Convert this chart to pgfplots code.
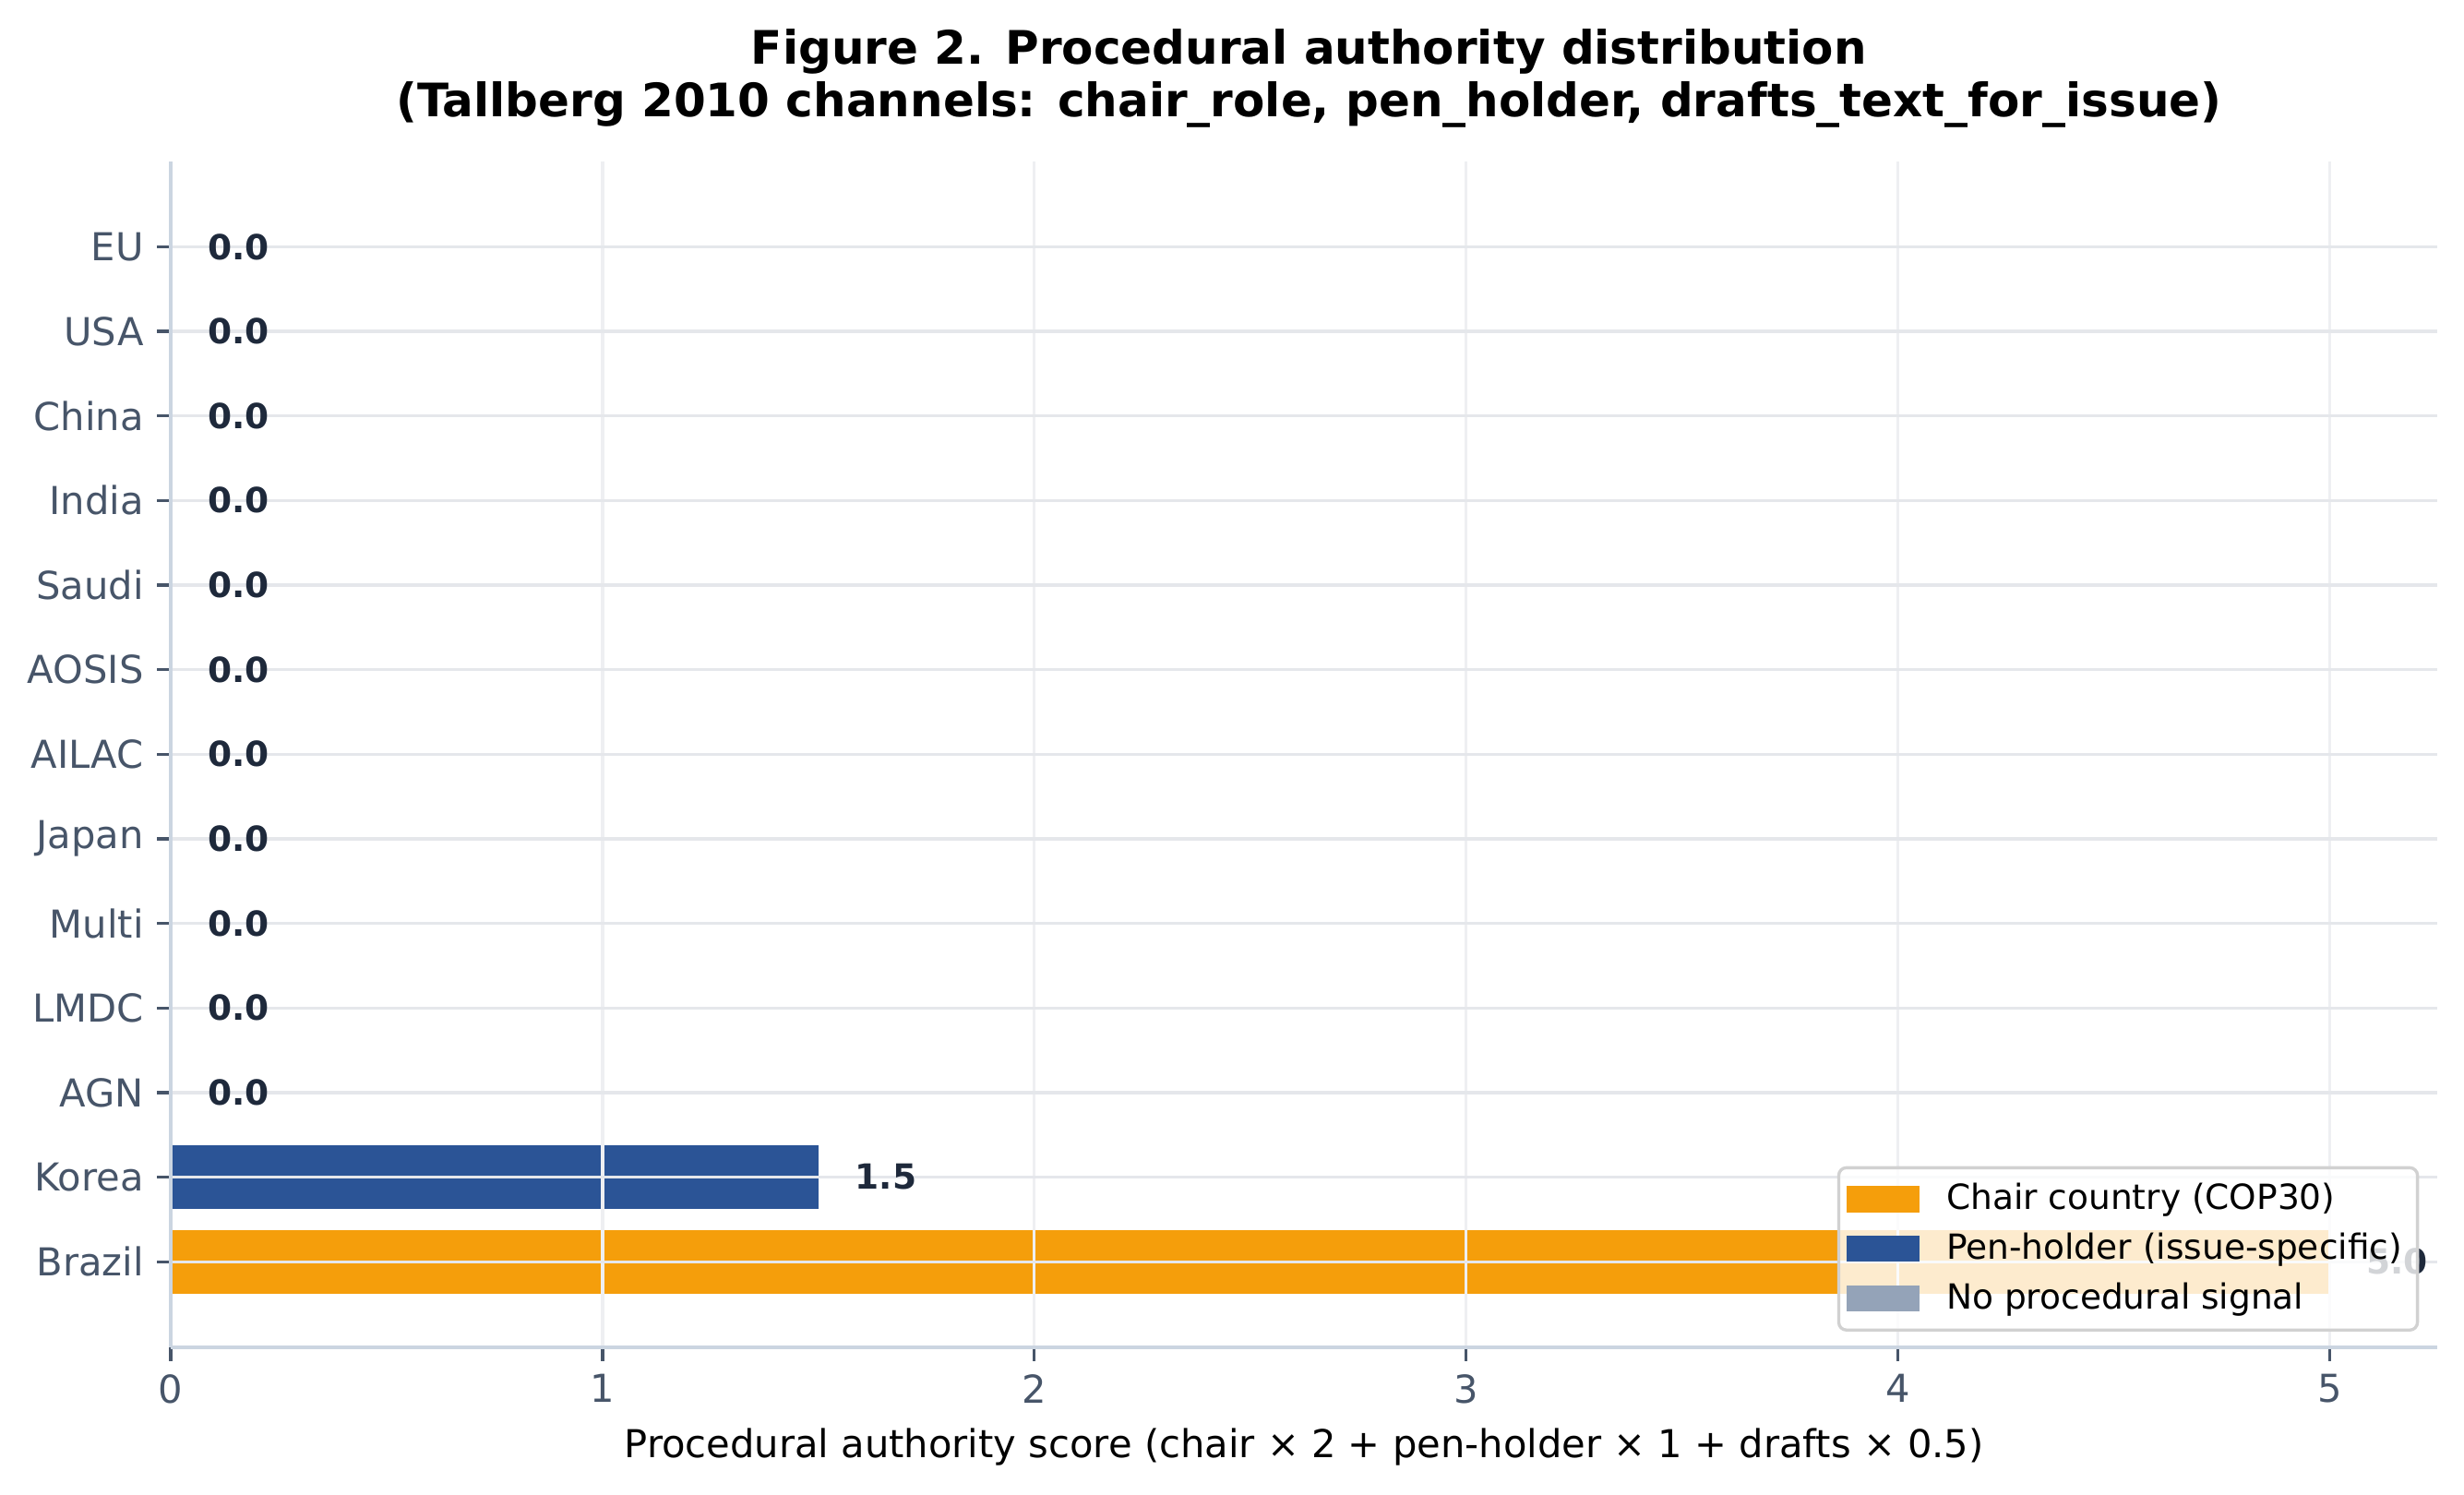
\documentclass[border=0pt]{standalone}
\usepackage{pgfplots}
\pgfplotsset{compat=1.18}
\usepackage{fontspec}
\setmainfont{DejaVu Sans}

\definecolor{chair}{HTML}{F59E0B}
\definecolor{pen}{HTML}{2B5496}
\definecolor{nosig}{HTML}{94A3B8}
\definecolor{ticktxt}{HTML}{475569}
\definecolor{spine}{HTML}{CBD5E1}
\definecolor{gridc}{HTML}{E5E7EB}
\definecolor{gridx}{HTML}{EEEFF2}
\definecolor{lbl}{HTML}{1E293B}

\begin{document}
\begin{tikzpicture}
\path[use as bounding box] (0,0) rectangle (640.8pt,388.6pt);
\begin{axis}[
    at={(44.4pt,38.2pt)}, anchor=south west,
    scale only axis, width=589.5pt, height=308.5pt,
    xbar, bar width=0.75, bar shift=0pt,
    xmin=0, xmax=5.25, ymin=-1.0125, ymax=13.0125,
    xtick={0,1,2,3,4,5}, ytick={0,1,...,12},
    yticklabels={Brazil,Korea,AGN,LMDC,Multi,Japan,AILAC,AOSIS,Saudi,India,China,USA,EU},
    /pgf/number format/assume math mode=true,
    tick label style={font=\fontsize{10}{12}\selectfont, text=ticktxt},
    axis x line*=bottom, axis y line*=left,
    axis line style={draw=spine, line width=0.8pt, -},
    tick align=outside, major tick length=3.5pt,
    tick style={draw=ticktxt, line width=0.8pt},
    xmajorgrids, ymajorgrids,
    y grid style={draw=gridc, line width=0.8pt},
    x grid style={draw=gridx, line width=0.8pt},
    axis on top, clip=false,
    xlabel={Procedural authority score (chair × 2 + pen-holder × 1 + drafts × 0.5)},
    xlabel style={at={(rel axis cs:0.5,0)}, anchor=center, yshift=-25.9pt,
        font=\fontsize{10}{12}\selectfont},
    point meta=x,
    nodes near coords={\pgfmathprintnumber[fixed,precision=1,fixed zerofill]{\pgfplotspointmeta}},
    every node near coord/.append style={anchor=west, inner sep=0pt, xshift=9.4pt,
        font=\fontsize{9}{11}\selectfont\bfseries, text=lbl},
    legend image code/.code={%
        \fill[#1, draw=none, fill opacity=1, sharp corners] (0pt,-3.4pt) rectangle (19pt,3.4pt);
        \path (24pt,0pt);},
    legend cell align=left,
    legend style={at={(rel axis cs:1,0)}, anchor=south east, xshift=-4.8pt, yshift=4.1pt,
        draw=black!18, line width=0.8pt, rounded corners=2pt,
        fill=white, fill opacity=0.8, text opacity=1,
        font=\fontsize{9}{11}\selectfont, row sep=0.6pt,
        inner xsep=2pt, inner ysep=2pt},
]
\addplot[draw=none, fill=chair, bar shift=0pt] coordinates {(5,0)};
\addlegendentry{Chair country (COP30)}
\addplot[draw=none, fill=pen, bar shift=0pt] coordinates {(1.5,1)};
\addlegendentry{Pen-holder (issue-specific)}
\addplot[draw=none, fill=nosig, bar shift=0pt] coordinates {
    (0,2) (0,3) (0,4) (0,5) (0,6) (0,7) (0,8) (0,9) (0,10) (0,11) (0,12)
};
\addlegendentry{No procedural signal}
\end{axis}
\node[align=center, font=\fontsize{12}{13.6}\selectfont\bfseries] at (340.4pt,368.3pt)
    {Figure 2. Procedural authority distribution\\(Tallberg 2010 channels: chair\_role, pen\_holder, drafts\_text\_for\_issue)};
\end{tikzpicture}
\end{document}
